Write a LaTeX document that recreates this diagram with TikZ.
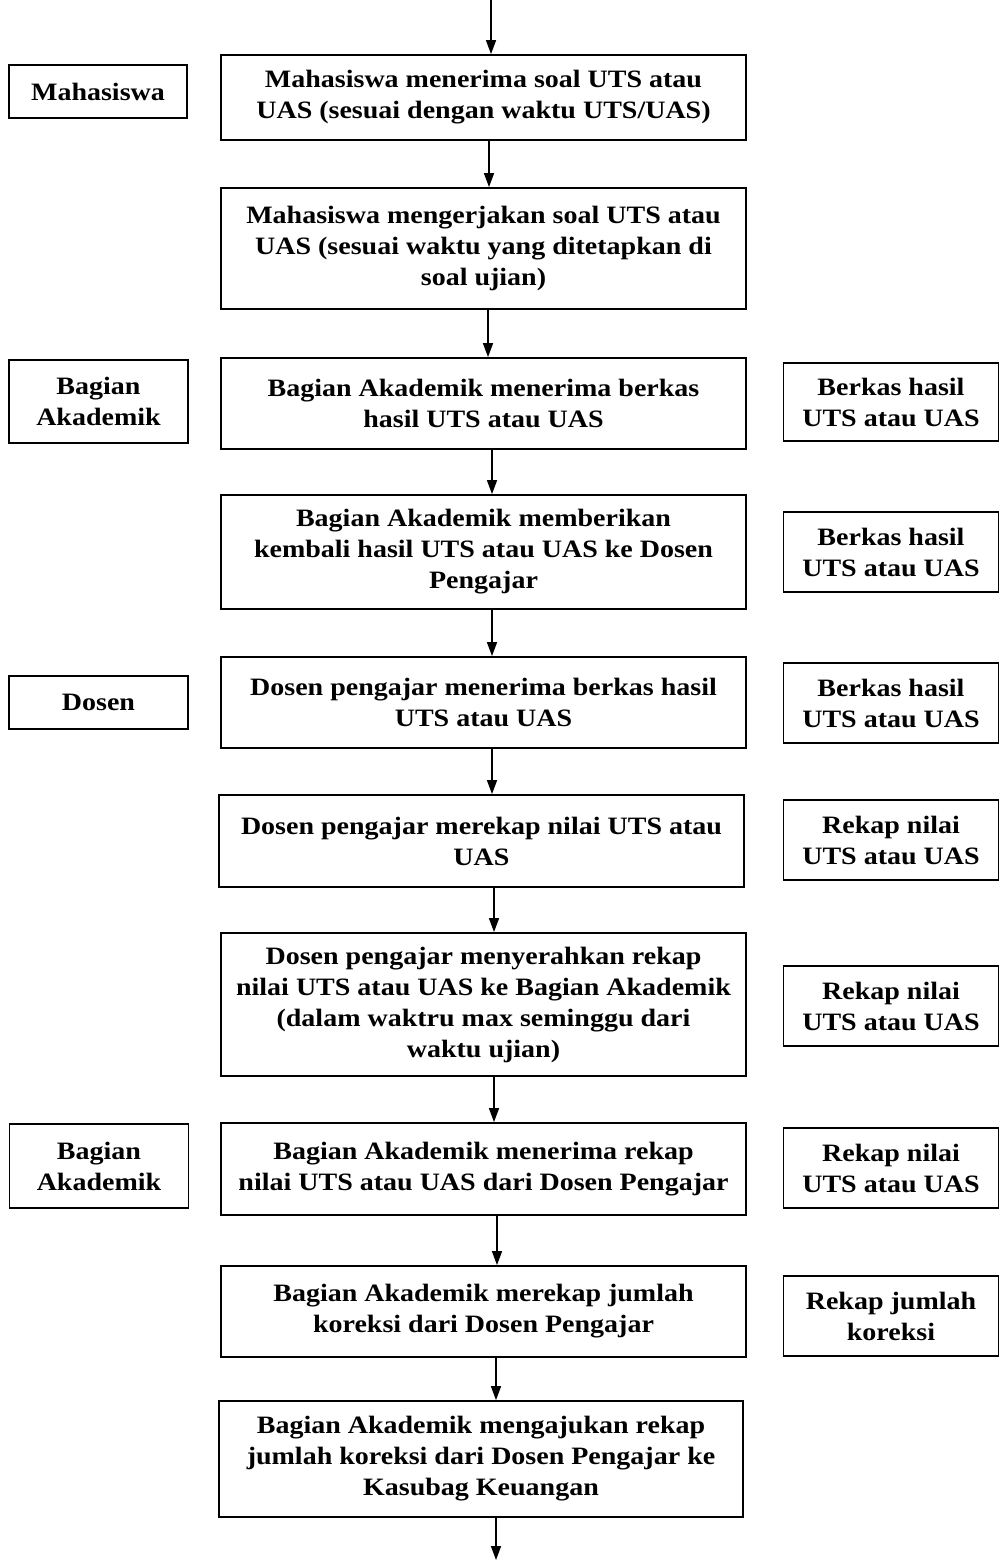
\documentclass[tikz,border=0pt]{standalone}
\usepackage{fontspec}
\setmainfont{Liberation Serif}[FakeStretch=1.12]
\usetikzlibrary{arrows.meta}
\tikzset{
  box/.style={draw, line width=1.8pt, rectangle, align=center, inner sep=0pt,
    font=\fontsize{25}{31}\selectfont\bfseries},
  mainbox/.style={box, minimum width=525pt},
  sidebox/.style={box, minimum width=179pt},
  docbox/.style={box, minimum width=215pt, minimum height=80pt},
  arr/.style={line width=1.5pt, -{Triangle[length=14pt,width=10pt]}}
}
\begin{document}
\begin{tikzpicture}[x=1pt,y=-1pt]
\useasboundingbox (0,0) rectangle (1000,1560);
% main boxes
\node[mainbox, minimum height=85pt] (b1) at (483.5,97.5) {Mahasiswa menerima soal UTS atau\\UAS (sesuai dengan waktu UTS/UAS)};
\node[mainbox, minimum height=121pt] (b2) at (483.5,248.5) {Mahasiswa mengerjakan soal UTS atau\\UAS (sesuai waktu yang ditetapkan di\\soal ujian)};
\node[mainbox, minimum height=91pt] (b3) at (483.5,403.5) {Bagian Akademik menerima berkas\\hasil UTS atau UAS};
\node[mainbox, minimum height=114pt] (b4) at (483.5,552) {Bagian Akademik memberikan\\kembali hasil UTS atau UAS ke Dosen\\Pengajar};
\node[mainbox, minimum height=91pt] (b5) at (483.5,702.5) {Dosen pengajar menerima berkas hasil\\UTS atau UAS};
\node[mainbox, minimum height=92pt] (b6) at (481.5,841) {Dosen pengajar merekap nilai UTS atau\\UAS};
\node[mainbox, minimum height=143pt] (b7) at (483.5,1004.5) {Dosen pengajar menyerahkan rekap\\nilai UTS atau UAS ke Bagian Akademik\\(dalam waktru max seminggu dari\\waktu ujian)};
\node[mainbox, minimum height=92pt] (b8) at (483.5,1169) {Bagian Akademik menerima rekap\\nilai UTS atau UAS dari Dosen Pengajar};
\node[mainbox, minimum height=91pt] (b9) at (483.5,1311.5) {Bagian Akademik merekap jumlah\\koreksi dari Dosen Pengajar};
\node[mainbox, minimum width=524pt, minimum height=116pt] (b10) at (481,1459) {Bagian Akademik mengajukan rekap\\jumlah koreksi dari Dosen Pengajar ke\\Kasubag Keuangan};
% left boxes
\node[sidebox, minimum width=178pt, minimum height=53pt] (l1) at (98,91.5) {Mahasiswa};
\node[sidebox, minimum height=83pt] (l2) at (98.5,401.5) {Bagian\\Akademik};
\node[sidebox, minimum height=53pt] (l3) at (98.5,702.5) {Dosen};
\node[sidebox, minimum height=84pt] (l4) at (99,1166) {Bagian\\Akademik};
% right boxes
\node[docbox, minimum height=78pt] (r1) at (891,402) {Berkas hasil\\UTS atau UAS};
\node[docbox] (r2) at (891,552) {Berkas hasil\\UTS atau UAS};
\node[docbox] (r3) at (891,703) {Berkas hasil\\UTS atau UAS};
\node[docbox] (r4) at (891,840) {Rekap nilai\\UTS atau UAS};
\node[docbox] (r5) at (891,1006) {Rekap nilai\\UTS atau UAS};
\node[docbox] (r6) at (891,1168) {Rekap nilai\\UTS atau UAS};
\node[docbox] (r7) at (891,1316) {Rekap jumlah\\koreksi};
% arrow x positions
\coordinate (top) at (491,0);
\coordinate (bot) at (496,1560);
\coordinate (x2) at (489,0);
\coordinate (x3) at (488,0);
\coordinate (x4) at (492,0);
\coordinate (x7) at (494,0);
\coordinate (x9) at (497,0);
\coordinate (x10) at (496,0);
\draw[arr] (top) -- (b1.north -| top);
\draw[arr] (b1.south -| x2) -- (b2.north -| x2);
\draw[arr] (b2.south -| x3) -- (b3.north -| x3);
\draw[arr] (b3.south -| x4) -- (b4.north -| x4);
\draw[arr] (b4.south -| x4) -- (b5.north -| x4);
\draw[arr] (b5.south -| x4) -- (b6.north -| x4);
\draw[arr] (b6.south -| x7) -- (b7.north -| x7);
\draw[arr] (b7.south -| x7) -- (b8.north -| x7);
\draw[arr] (b8.south -| x9) -- (b9.north -| x9);
\draw[arr] (b9.south -| x10) -- (b10.north -| x10);
\draw[arr] (b10.south -| bot) -- (bot);
\end{tikzpicture}
\end{document}
